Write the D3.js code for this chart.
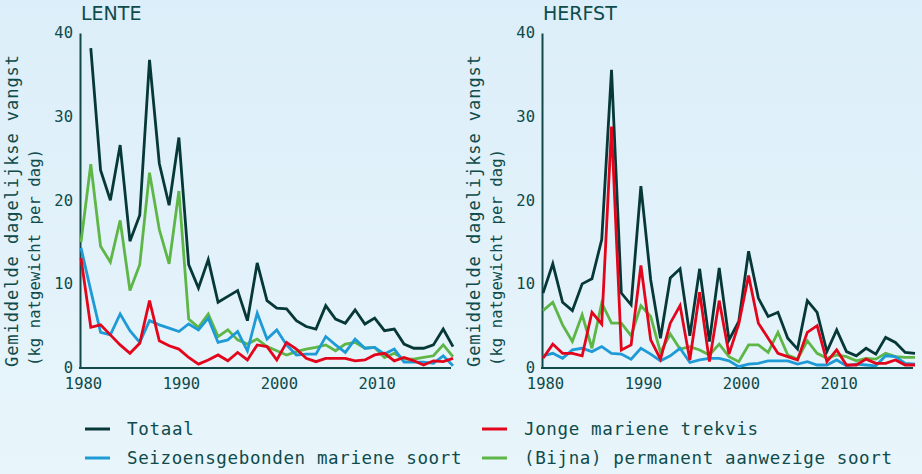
<!DOCTYPE html>
<html>
<head>
<meta charset="utf-8">
<script src="https://cdn.jsdelivr.net/npm/d3@7"></script>
<style>
body { margin: 0; background: #e2f2fb; }
svg { display: block; }
</style>
</head>
<body>
<div id="chart"></div>
<script>
const years = [1980, 1981, 1982, 1983, 1984, 1985, 1986, 1987, 1988, 1989,
    1990, 1991, 1992, 1993, 1994, 1995, 1996, 1997, 1998, 1999,
    2000, 2001, 2002, 2003, 2004, 2005, 2006, 2007, 2008, 2009,
    2010, 2011, 2012, 2013, 2014, 2015, 2016, 2017, 2018];
const yTicks = [0, 10, 20, 30, 40];
const xTicks = [1980, 1990, 2000, 2010];

// lente (spring)
const totaalLente = [null, 38.2, 23.6, 20.0, 26.6, 15.1, 18.2, 36.8, 24.4, 19.4,
    27.5, 12.3, 9.5, 12.9, 7.8, 8.5, 9.2, 5.6, 12.5, 8.0,
    7.1, 7.0, 5.6, 4.9, 4.6, 7.4, 5.8, 5.3, 6.9, 5.2,
    5.9, 4.4, 4.6, 2.8, 2.3, 2.3, 2.7, 4.6, 2.5];
const trekvisLente = [13.1, 4.8, 5.1, 3.9, 2.7, 1.7, 2.9, 8.0, 3.2, 2.6,
    2.2, 1.2, 0.4, 0.9, 1.5, 0.8, 1.8, 0.9, 2.7, 2.5,
    0.9, 3.0, 2.2, 1.1, 0.7, 1.1, 1.1, 1.1, 0.8, 0.9,
    1.5, 1.7, 0.8, 1.2, 0.8, 0.3, 0.8, 0.7, 1.1];
const seizoenLente = [14.3, 9.2, 4.2, 3.9, 6.4, 4.4, 3.0, 5.6, 5.1, 4.7,
    4.3, 5.2, 4.5, 5.9, 3.0, 3.3, 4.3, 2.0, 6.5, 3.4,
    4.5, 2.7, 1.5, 1.6, 1.6, 3.7, 2.7, 1.8, 3.4, 2.3,
    2.4, 1.6, 2.2, 0.65, 0.65, 0.65, 0.5, 1.4, 0.2];
const permanentLente = [15.0, 24.3, 14.5, 12.6, 17.6, 9.2, 12.3, 23.3, 16.5, 12.4,
    21.1, 5.8, 4.8, 6.4, 3.7, 4.5, 3.3, 2.8, 3.4, 2.5,
    2.0, 1.5, 1.9, 2.2, 2.4, 2.7, 2.0, 2.8, 3.0, 2.3,
    2.4, 1.2, 1.7, 1.0, 1.0, 1.2, 1.4, 2.7, 1.3];

// herfst (autumn)
const totaalHerfst = [8.9, 12.4, 7.8, 6.8, 10.0, 10.6, 15.3, 35.6, 8.9, 7.5,
    21.7, 10.5, 3.5, 10.7, 11.8, 3.8, 11.8, 3.1, 11.9, 3.3,
    5.5, 13.9, 8.3, 6.1, 6.6, 3.5, 2.2, 8.0, 6.6, 1.9,
    4.5, 1.9, 1.4, 2.3, 1.6, 3.6, 3.0, 1.8, 1.7];
const trekvisHerfst = [1.1, 2.8, 1.7, 1.7, 1.4, 6.6, 5.2, 28.8, 2.1, 2.7,
    12.2, 3.3, 1.0, 5.3, 7.4, 0.9, 9.0, 0.7, 8.0, 1.6,
    5.2, 11.0, 5.3, 3.5, 1.7, 1.3, 0.9, 4.2, 5.0, 0.7,
    2.1, 0.3, 0.3, 1.0, 0.5, 0.5, 0.9, 0.3, 0.3];
const seizoenHerfst = [1.4, 1.7, 1.1, 2.1, 2.3, 1.9, 2.5, 1.7, 1.6, 1.0,
    2.3, 1.6, 0.8, 1.4, 2.3, 0.6, 0.9, 1.1, 1.1, 0.8,
    0.1, 0.4, 0.5, 0.8, 0.8, 0.8, 0.4, 0.7, 0.3, 0.3,
    0.9, 0.2, 0.4, 0.3, 0.2, 1.4, 1.3, 0.5, 0.4];
const permanentHerfst = [6.8, 7.8, 5.1, 3.1, 6.3, 2.3, 7.7, 5.3, 5.3, 3.8,
    7.4, 6.1, 1.8, 4.0, 2.2, 2.5, 2.1, 1.5, 2.8, 1.3,
    0.7, 2.7, 2.7, 1.8, 4.2, 1.5, 1.0, 3.2, 1.7, 1.1,
    1.5, 1.3, 0.8, 1.1, 1.0, 1.7, 1.3, 1.2, 1.2];

const seriesNames = ["Totaal", "Jonge mariene trekvis", "Seizoensgebonden mariene soort", "(Bijna) permanent aanwezige soort"];
const colors = {
    "Totaal": "#073838",
    "Jonge mariene trekvis": "#e3051b",
    "Seizoensgebonden mariene soort": "#1e9bd7",
    "(Bijna) permanent aanwezige soort": "#5db646"
};

const textColor = "#0e4b4b";
const monoFont = "'DejaVu Sans Mono', monospace";

const svg = d3.select("#chart")
    .append("svg")
    .attr("width", 922)
    .attr("height", 474);

const grad = svg.append("defs").append("linearGradient")
    .attr("id", "bg")
    .attr("x1", 0).attr("y1", 0).attr("x2", 0).attr("y2", 1);
grad.append("stop").attr("offset", "0%").attr("stop-color", "#dcEEF9");
grad.append("stop").attr("offset", "100%").attr("stop-color", "#e8f5fb");
svg.append("rect").attr("width", 922).attr("height", 474).attr("fill", "url(#bg)");

const yScale = d3.scaleLinear().domain([0, 40]).range([367.5, 33]);

function drawPanel(left, title, data) {
    const xScale = d3.scaleLinear().domain([1980, 2018]).range([left, left + 372]);
    const g = svg.append("g");

    g.append("text")
        .attr("x", left)
        .attr("y", 20)
        .attr("fill", textColor)
        .style("font-family", "'DejaVu Sans', sans-serif")
        .style("font-size", "19px")
        .text(title);

    // axis titles, bottom-aligned at the x axis
    g.append("text")
        .attr("transform", `translate(${left - 63},367) rotate(-90)`)
        .attr("fill", textColor)
        .attr("textLength", 312)
        .attr("lengthAdjust", "spacing")
        .style("font-family", monoFont)
        .style("font-size", "17px")
        .text("Gemiddelde dagelijkse vangst");
    g.append("text")
        .attr("transform", `translate(${left - 41},366) rotate(-90)`)
        .attr("fill", textColor)
        .attr("textLength", 217)
        .attr("lengthAdjust", "spacing")
        .style("font-family", monoFont)
        .style("font-size", "15.5px")
        .text("(kg natgewicht per dag)");

    const yAxis = d3.axisLeft(yScale).tickValues(yTicks).tickSize(0).tickPadding(7);
    const ya = g.append("g").attr("transform", `translate(${left - 1},0)`).call(yAxis);

    const xAxis = d3.axisBottom(xScale).tickValues(xTicks).tickFormat(d3.format("d")).tickSize(0).tickPadding(10);
    const xa = g.append("g").attr("transform", "translate(0,368)").call(xAxis);
    xa.select(".domain").attr("d", `M${left - 2},0H${left + 370}`);

    [ya, xa].forEach(a => {
        a.select(".domain").attr("stroke", "#124848").attr("stroke-width", 2);
        a.selectAll("text")
            .attr("fill", textColor)
            .style("font-family", monoFont)
            .style("font-size", "15.5px");
    });
    xa.selectAll("text").attr("dx", 2);

    const line = d3.line()
        .defined(d => d[1] != null)
        .x(d => xScale(d[0]))
        .y(d => yScale(d[1]));

    // draw order: totaal underneath, red on top
    const order = ["Totaal", "(Bijna) permanent aanwezige soort", "Seizoensgebonden mariene soort", "Jonge mariene trekvis"];
    for (let i = 0; i < order.length; i++) {
        let name = order[i];
        let pts = years.map((y, j) => [y, data[name][j]]);
        g.append("path")
            .datum(pts)
            .attr("fill", "none")
            .attr("stroke", colors[name])
            .attr("stroke-width", 2.8)
            .attr("stroke-linejoin", "miter")
            .attr("d", line);
    }
}

drawPanel(81, "LENTE", {
    "Totaal": totaalLente,
    "Jonge mariene trekvis": trekvisLente,
    "Seizoensgebonden mariene soort": seizoenLente,
    "(Bijna) permanent aanwezige soort": permanentLente
});
drawPanel(543, "HERFST", {
    "Totaal": totaalHerfst,
    "Jonge mariene trekvis": trekvisHerfst,
    "Seizoensgebonden mariene soort": seizoenHerfst,
    "(Bijna) permanent aanwezige soort": permanentHerfst
});

// legend, two columns
const legendPos = [[85, 429], [482, 429], [85, 458], [482, 458]];
const legend = svg.append("g");
seriesNames.forEach((name, i) => {
    let p = legendPos[i];
    legend.append("line")
        .attr("x1", p[0]).attr("x2", p[0] + 25)
        .attr("y1", p[1]).attr("y2", p[1])
        .attr("stroke", colors[name])
        .attr("stroke-width", 3);
    legend.append("text")
        .attr("x", p[0] + 42)
        .attr("y", p[1])
        .attr("dy", "0.35em")
        .attr("fill", textColor)
        .attr("textLength", name.length * 11.15)
        .attr("lengthAdjust", "spacing")
        .style("font-family", monoFont)
        .style("font-size", "17.5px")
        .text(name);
});
</script>
</body>
</html>
